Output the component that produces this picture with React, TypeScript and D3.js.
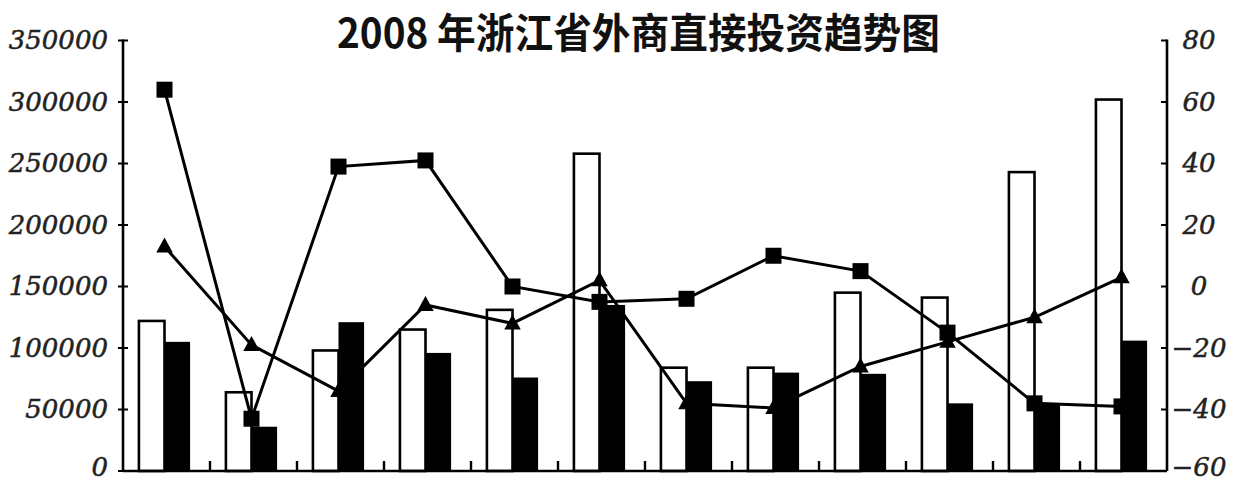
import { scaleBand, scaleLinear, line as d3line } from "d3";

const W = 1238;
const H = 481;

const months = ["1月", "2月", "3月", "4月", "5月", "6月", "7月", "8月", "9月", "10月", "11月", "12月"];

// 合同外资（白柱）与实际外资（黑柱），万美元
const contractedFDI = [122000, 64000, 98000, 115000, 131000, 258000, 84000, 84000, 145000, 141000, 243000, 302000];
const actualFDI = [105000, 36000, 121000, 96000, 76000, 135000, 73000, 80000, 79000, 55000, 54000, 106000];

// 同比增长率 %
const contractedGrowth = [64, -43, 39, 41, 0, -5, -4, 10, 5, -15, -38, -39];
const actualGrowth = [13, -19, -34, -6, -12, 2, -38, -39.5, -26, -18, -10, 3];

const leftTicks = [0, 50000, 100000, 150000, 200000, 250000, 300000, 350000];
const rightTicks = [-60, -40, -20, 0, 20, 40, 60, 80];

const title = "2008 年浙江省外商直接投资趋势图";

const left = 123;
const right = 1167;
const bottom = 471;
const top = 40.5;

export default function App() {
  const x = scaleBand<string>().domain(months).range([left, right]).padding(0);
  const inner = scaleBand<string>()
    .domain(["c", "a"])
    .range([0, x.bandwidth()])
    .paddingInner(0)
    .paddingOuter(0.7);
  const yL = scaleLinear().domain([0, 350000]).range([bottom, top]);
  const yR = scaleLinear().domain([-60, 80]).range([bottom, top]);

  const cx = (i: number) => (x(months[i]) ?? 0) + x.bandwidth() / 2 - 2;

  const line = d3line<number>()
    .x((_, i) => cx(i))
    .y((d) => yR(d));

  const fmtR = (v: number) => (v < 0 ? "\u2212" + Math.abs(v) : String(v));
  const tri = (s: number) => `M0,${-s * 0.6}L${s * 0.55},${s * 0.4}L${-s * 0.55},${s * 0.4}Z`;

  const labelProps = {
    fontFamily: "'DejaVu Serif', serif",
    fontStyle: "italic",
    fontSize: 26,
    fill: "#222",
    stroke: "#222",
    strokeWidth: 0.5,
    dy: "0.33em",
  };

  return (
    <svg
      width={W}
      height={H}
      viewBox={`0 0 ${W} ${H}`}
      style={{ position: "absolute", left: 0, top: 0, background: "#fff" }}
    >
      <rect x={0} y={0} width={W} height={H} fill="#fff" />

      {/* Title */}
      <text
        x={337}
        y={48}
        textLength={603}
        lengthAdjust="spacingAndGlyphs"
        fontFamily="'Noto Sans CJK SC', sans-serif"
        fontWeight="bold"
        fontSize={41}
        fill="#111"
      >
        {title}
      </text>

      {/* Bars */}
      {months.map((m, i) => {
        const bx = (x(m) ?? 0) - 2;
        return (
          <g key={m}>
            <rect
              x={bx + (inner("c") ?? 0)}
              y={yL(contractedFDI[i])}
              width={inner.bandwidth()}
              height={bottom - yL(contractedFDI[i])}
              fill="#fff"
              stroke="#000"
              strokeWidth={2.6}
            />
            <rect
              x={bx + (inner("a") ?? 0)}
              y={yL(actualFDI[i])}
              width={inner.bandwidth()}
              height={bottom - yL(actualFDI[i])}
              fill="#000"
            />
          </g>
        );
      })}

      {/* Lines */}
      <path d={line(contractedGrowth) ?? ""} fill="none" stroke="#000" strokeWidth={3} />
      <path d={line(actualGrowth) ?? ""} fill="none" stroke="#000" strokeWidth={3} />

      {contractedGrowth.map((v, i) => (
        <rect key={"s" + i} x={cx(i) - 8} y={yR(v) - 8} width={16} height={16} fill="#000" />
      ))}
      {actualGrowth.map((v, i) => (
        <path key={"t" + i} d={tri(15)} transform={`translate(${cx(i)},${yR(v)})`} fill="#000" />
      ))}

      {/* Bottom axis */}
      <line x1={left} x2={right} y1={bottom} y2={bottom} stroke="#000" strokeWidth={2.6} />
      {months.slice(1).map((m) => (
        <line
          key={"bt" + m}
          x1={x(m) ?? 0}
          x2={x(m) ?? 0}
          y1={bottom}
          y2={bottom - 10}
          stroke="#000"
          strokeWidth={2.4}
        />
      ))}

      {/* Left axis */}
      <line x1={left} x2={left} y1={top - 1} y2={bottom} stroke="#000" strokeWidth={2.6} />
      {leftTicks.map((t) => (
        <g key={"l" + t}>
          <line x1={left - 5} x2={left + 5} y1={yL(t)} y2={yL(t)} stroke="#000" strokeWidth={2} />
          <text x={108} y={Math.min(yL(t), 467)} textAnchor="end" {...labelProps}>
            {t}
          </text>
        </g>
      ))}

      {/* Right axis */}
      <line x1={right} x2={right} y1={top - 1} y2={bottom} stroke="#000" strokeWidth={2.6} />
      {rightTicks.map((t) => (
        <g key={"r" + t}>
          <line x1={right - 6} x2={right} y1={yR(t)} y2={yR(t)} stroke="#000" strokeWidth={2} />
          <text x={1199} y={Math.min(yR(t), 467)} textAnchor="middle" {...labelProps}>
            {fmtR(t)}
          </text>
        </g>
      ))}
    </svg>
  );
}
